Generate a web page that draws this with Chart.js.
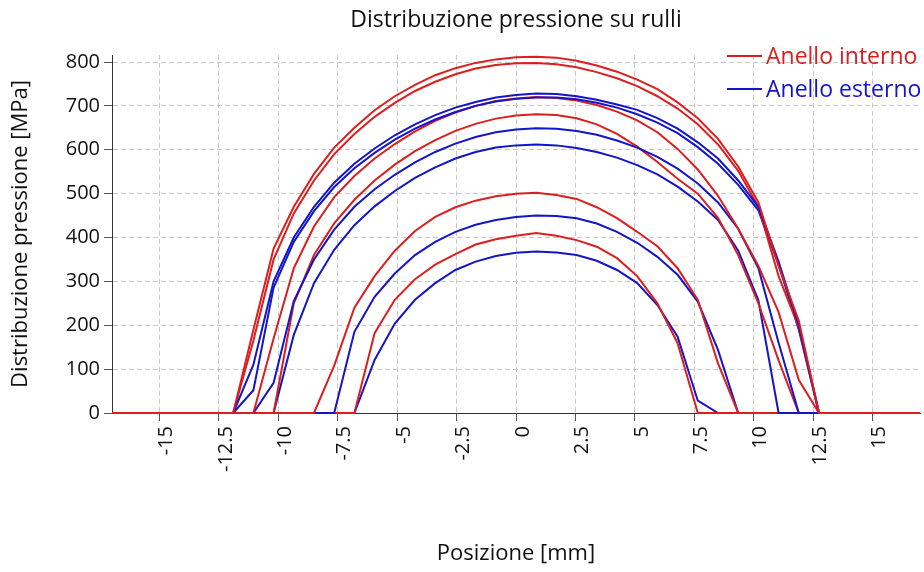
<!DOCTYPE html>
<html>
<head>
<meta charset="utf-8">
<title>Distribuzione pressione su rulli</title>
<script src="https://cdn.jsdelivr.net/npm/chart.js@4.4.0/dist/chart.umd.min.js"></script>
<style>
  html, body { margin: 0; padding: 0; background: #fff; }
  #wrap { width: 924px; height: 572px; }
</style>
</head>
<body>
<div id="wrap"><canvas id="chart" width="924" height="572"></canvas></div>
<script>
// Posizioni di campionamento lungo il rullo [mm]
const xPos = [-17, -16.15, -15.3, -14.45, -13.6, -12.75, -11.9, -11.05, -10.2, -9.35,
  -8.5, -7.65, -6.8, -5.95, -5.1, -4.25, -3.4, -2.55, -1.7, -0.85,
  0, 0.85, 1.7, 2.55, 3.4, 4.25, 5.1, 5.95, 6.8, 7.65,
  8.5, 9.35, 10.2, 11.05, 11.9, 12.75, 13.6, 14.45, 15.3, 16.15, 17];

const xTicks = [-15, -12.5, -10, -7.5, -5, -2.5, 0, 2.5, 5, 7.5, 10, 12.5, 15];
const yTicks = [0, 100, 200, 300, 400, 500, 600, 700, 800];

// Anello interno [MPa], un rullo per serie
const int1 = [0,0,0,0,0,0,0,190,375,470,545,605,650,690,722,748,770,786,798,806,811,812,810,803,792,778,760,738,708,672,625,562,480,335,210,0,0,0,0,0,0];
const int2 = [0,0,0,0,0,0,0,165,350,455,530,590,636,675,707,734,755,772,785,793,797,798,795,788,777,763,745,722,694,658,612,552,470,312,195,0,0,0,0,0,0];
const int3 = [0,0,0,0,0,0,0,0,170,330,425,492,540,580,613,642,666,685,700,711,717,720,718,712,702,687,667,640,602,555,495,420,335,230,75,0,0,0,0,0,0];
const int4 = [0,0,0,0,0,0,0,0,0,250,360,432,486,530,566,597,622,643,659,671,678,681,679,672,658,636,607,572,534,500,445,360,250,120,0,0,0,0,0,0,0];
const int5 = [0,0,0,0,0,0,0,0,0,0,0,108,240,312,370,415,447,469,484,494,500,502,497,488,469,444,413,380,330,258,113,0,0,0,0,0,0,0,0,0,0];
const int6 = [0,0,0,0,0,0,0,0,0,0,0,0,0,182,258,305,338,362,384,396,404,410,404,394,379,353,312,250,159,0,0,0,0,0,0,0,0,0,0,0,0];

// Anello esterno [MPa]
const est1 = [0,0,0,0,0,0,0,110,300,400,470,525,568,603,633,658,679,696,709,719,725,728,727,722,714,703,691,672,648,617,580,530,470,345,200,0,0,0,0,0,0];
const est2 = [0,0,0,0,0,0,0,52,286,390,460,515,558,593,623,648,669,686,700,710,716,719,719,715,707,696,681,662,638,606,568,520,462,338,190,0,0,0,0,0,0];
const est3 = [0,0,0,0,0,0,0,0,69,255,350,418,470,510,543,571,595,614,629,640,646,649,648,643,634,621,605,584,557,523,480,420,330,160,0,0,0,0,0,0,0];
const est4 = [0,0,0,0,0,0,0,0,0,178,296,372,428,471,506,536,560,580,595,605,610,612,610,604,595,582,565,544,516,482,440,370,257,0,0,0,0,0,0,0,0];
const est5 = [0,0,0,0,0,0,0,0,0,0,0,0,185,265,318,360,390,413,429,440,447,450,449,444,432,413,388,356,315,254,144,0,0,0,0,0,0,0,0,0,0];
const est6 = [0,0,0,0,0,0,0,0,0,0,0,0,0,121,204,258,296,326,345,358,365,368,366,360,347,326,296,246,174,28,0,0,0,0,0,0,0,0,0,0,0];

const RED = '#dc1e1e';
const BLUE = '#1414c8';
const FONT = '"Open Sans", "Noto Sans", sans-serif';

function toPoints(vals) {
  return vals.map((v, i) => ({ x: xPos[i], y: v }));
}

function serie(vals, color, label) {
  return {
    label: label,
    data: toPoints(vals),
    borderColor: color,
    backgroundColor: color,
    borderWidth: 2,
    pointRadius: 0,
    tension: 0,
    fill: false,
    clip: false
  };
}

// interno ed esterno alternati, l'ultimo tracciato e' blu
const datasets = [
  serie(int1, RED, 'Anello interno'), serie(est1, BLUE, 'Anello esterno'),
  serie(int2, RED, 'Anello interno'), serie(est2, BLUE, 'Anello esterno'),
  serie(int3, RED, 'Anello interno'), serie(est3, BLUE, 'Anello esterno'),
  serie(int4, RED, 'Anello interno'), serie(est4, BLUE, 'Anello esterno'),
  serie(int5, RED, 'Anello interno'), serie(est5, BLUE, 'Anello esterno'),
  serie(int6, RED, 'Anello interno'), serie(est6, BLUE, 'Anello esterno')
];

// Titolo centrato sull'area del grafico e legenda in alto a destra
const decorations = {
  id: 'decorations',
  afterDraw(chart) {
    const ctx = chart.ctx;
    const area = chart.chartArea;
    ctx.save();
    ctx.textBaseline = 'middle';
    ctx.textAlign = 'center';
    ctx.fillStyle = '#111';
    ctx.font = '23px ' + FONT;
    ctx.fillText('Distribuzione pressione su rulli', (area.left + area.right) / 2, 20);

    const items = [
      { text: 'Anello interno', color: RED, y: 56 },
      { text: 'Anello esterno', color: BLUE, y: 89 }
    ];
    ctx.font = '23px ' + FONT;
    ctx.textAlign = 'left';
    items.forEach(it => {
      ctx.strokeStyle = it.color;
      ctx.lineWidth = 2;
      ctx.beginPath();
      ctx.moveTo(727, it.y);
      ctx.lineTo(762, it.y);
      ctx.stroke();
      ctx.fillStyle = it.color;
      ctx.fillText(it.text, 766, it.y + 1);
    });
    ctx.restore();
  }
};

new Chart(document.getElementById('chart').getContext('2d'), {
  type: 'line',
  data: { datasets: datasets },
  plugins: [decorations],
  options: {
    responsive: false,
    animation: false,
    layout: { padding: { left: 0, right: 4, top: 55, bottom: 0 } },
    plugins: {
      legend: { display: false },
      tooltip: { enabled: false },
      title: { display: false }
    },
    scales: {
      x: {
        type: 'linear',
        min: -17,
        max: 17,
        afterBuildTicks: s => { s.ticks = xTicks.map(v => ({ value: v })); },
        afterFit: s => { s.height = 159; },
        ticks: {
          autoSkip: false,
          minRotation: 90,
          maxRotation: 90,
          padding: 5,
          labelOffset: 7,
          color: '#111',
          font: { family: FONT, size: 20 },
          callback: v => String(v)
        },
        grid: { color: '#c8c8c8', tickColor: '#555', tickLength: 8, tickBorderDash: [] },
        border: { display: true, color: '#333', dash: [5, 3] },
        title: {
          display: true,
          text: 'Posizione [mm]',
          color: '#111',
          font: { family: FONT, size: 22 },
          padding: { top: 0, bottom: 5 }
        }
      },
      y: {
        min: 0,
        max: 816,
        afterBuildTicks: s => { s.ticks = yTicks.map(v => ({ value: v })); },
        afterFit: s => { s.width = 112; },
        ticks: {
          padding: 4,
          color: '#111',
          font: { family: FONT, size: 20 }
        },
        grid: { color: '#c8c8c8', tickColor: '#555', tickLength: 8, tickBorderDash: [] },
        border: { display: true, color: '#333', dash: [5, 3] },
        title: {
          display: true,
          text: 'Distribuzione pressione [MPa]',
          color: '#111',
          font: { family: FONT, size: 22 },
          padding: { top: 8, bottom: 0 }
        }
      }
    }
  }
});
</script>
</body>
</html>
